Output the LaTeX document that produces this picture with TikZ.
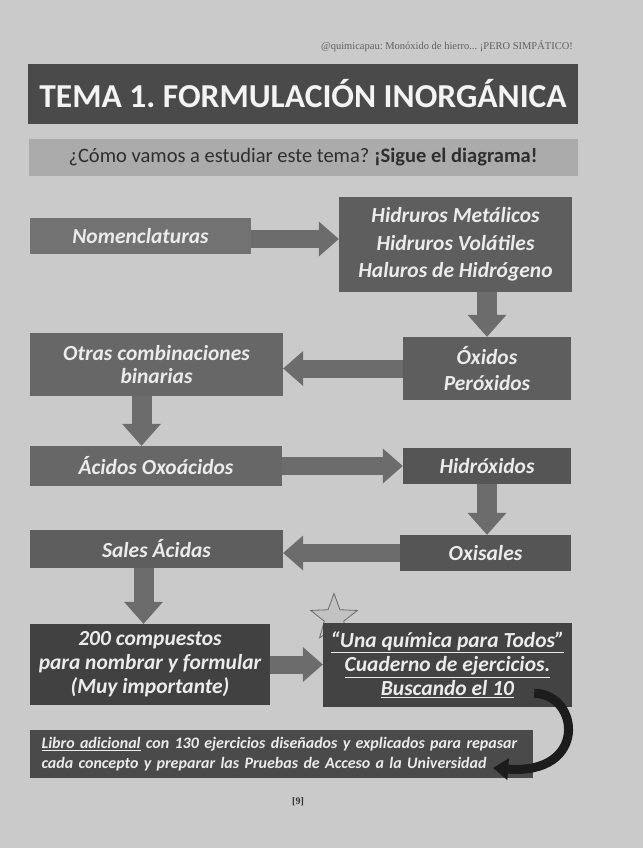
\documentclass[tikz,border=0pt]{standalone}
\usepackage{fontspec}
\setmainfont{Carlito}
\newfontfamily\serifcab{Liberation Serif}
\usetikzlibrary{arrows.meta,shapes.geometric}

\definecolor{fondo}{HTML}{CACACA}
\definecolor{cajaclara}{HTML}{727272}
\definecolor{caja}{HTML}{5E5E5E}
\definecolor{cajaosc}{HTML}{4A4A4A}
\definecolor{flecha}{HTML}{6C6C6C}
\definecolor{letra}{HTML}{EBEBEB}
\definecolor{curva}{HTML}{1C1C1C}

\begin{document}
\frenchspacing
\begin{tikzpicture}[x=1pt,y=-1pt,
    caja/.style={fill=caja, text=letra, align=center, inner sep=0pt,
      font=\fontsize{21.5}{24}\selectfont\bfseries\itshape},
    flechah/.style={draw=flecha, line width=18pt,
      -{Triangle[width=35pt,length=20pt,line width=0pt]}},
    flechav/.style={draw=flecha, line width=20pt,
      -{Triangle[width=39pt,length=22pt,line width=0pt]}}]
    % page
    \fill[fondo] (0,0) rectangle (643,848);
    \useasboundingbox (0,0) rectangle (643,848);
    \node[font=\serifcab\fontsize{10.5}{12}\selectfont, text=black!62] (cab) at (447,46)
      {@quimicapau: Monóxido de hierro... ¡PERO SIMPÁTICO!};

    % title bars
    \node[fill=cajaosc, minimum width=550pt, minimum height=60pt, text=letra!60!white,
      font=\fontsize{33.5}{36}\selectfont\bfseries] (titulo) at (303,94)
      {TEMA 1. FORMULACIÓN INORGÁNICA};
    \node[fill=black!33, minimum width=549pt, minimum height=37pt, text=black!82,
      font=\fontsize{20.5}{22}\selectfont] (sub) at (303,157.5)
      {¿Cómo vamos a estudiar este tema? \textbf{¡Sigue el diagrama!}};

    % star, partly under the book box
    \node[star, star points=5, star point ratio=2.4, minimum size=49pt, inner sep=0pt,
      fill=black!24, draw=black!58, line width=0.8pt] (estrella) at (334,618) {};

    % boxes
    \node[caja, fill=cajaclara, minimum width=221pt, minimum height=36pt] (nom) at (140.5,236) {Nomenclaturas};
    \node[caja, minimum width=233pt, minimum height=95pt, font=\fontsize{21.5}{27.5}\selectfont\bfseries\itshape]
      (hid) at (455.5,244.5) {Hidruros Metálicos\\Hidruros Volátiles\\Haluros de Hidrógeno};
    \node[caja, minimum width=168pt, minimum height=63pt, font=\fontsize{21.5}{26}\selectfont\bfseries\itshape]
      (oxi) at (487,368.5) {Óxidos\\Peróxidos};
    \node[caja, fill=cajaclara!90!black, minimum width=253pt, minimum height=63pt, font=\fontsize{21.5}{23}\selectfont\bfseries\itshape]
      (otras) at (156.5,364.5) {Otras combinaciones\\binarias};
    \node[caja, fill=cajaclara!90!black, minimum width=252pt, minimum height=40pt] (acidos) at (156,466) {Ácidos Oxoácidos};
    \node[caja, fill=caja!90!black, minimum width=168pt, minimum height=36pt] (hidrox) at (487,466) {Hidróxidos};
    \node[caja, fill=caja!90!black, minimum width=171pt, minimum height=36pt] (oxis) at (485.5,553) {Oxisales};
    \node[caja, minimum width=253pt, minimum height=38pt] (sales) at (156.5,549) {Sales Ácidas};
    \node[caja, fill=cajaosc!105, minimum width=240pt, minimum height=81pt] (comp) at (150,664.5)
      {200 compuestos\\para nombrar y formular\\(Muy importante)};
    \node[caja, fill=cajaosc!90!black, minimum width=249pt, minimum height=84pt] (una) at (447.5,665)
      {\underline{“Una química para Todos”}\\\underline{Cuaderno de ejercicios.}\\\underline{Buscando el 10}};
    \node[caja, fill=cajaosc, minimum width=503pt, minimum height=48pt, text width=480pt, align=left,
      font=\fontsize{16}{20}\selectfont\bfseries\itshape] (libro) at (281.5,754)
      {\underline{Libro adicional} con 130 ejercicios diseñados y explicados para repasar\\cada concepto y preparar las Pruebas de Acceso a la Universidad};

    % arrows between boxes
    \draw[flechah] ([yshift=-3pt]nom.east) -- ([yshift=-3pt]nom.east -| hid.west);
    \draw[flechav] (hid.south -| oxi.north) -- (oxi.north);
    \draw[flechah] (oxi.west) -- (oxi.west -| otras.east);
    \draw[flechav] ([xshift=-15pt]otras.south) -- ([xshift=-15pt]otras.south |- acidos.north);
    \draw[flechah] (acidos.east) -- (acidos.east -| hidrox.west);
    \draw[flechav] (hidrox.south) -- (hidrox.south |- oxis.north);
    \draw[flechah] (oxis.west) -- (oxis.west -| sales.east);
    \draw[flechav] ([xshift=-13pt]sales.south) -- ([xshift=-13pt]sales.south |- comp.north);
    \draw[flechah] (comp.east) -- (comp.east -| una.west);

    % curved arrow to the extra book
    \coordinate (curvaini) at ([xshift=-38pt,yshift=14pt]una.south east);
    \coordinate (curvafin) at ([xshift=-40pt,yshift=-14pt]libro.east);
    \draw[curva, line width=9pt, -{Triangle[width=22pt,length=15pt,line width=0pt]}]
      (curvaini) .. controls (580,694) and (588,775) .. (curvafin);

    \node[font=\serifcab\bfseries\fontsize{10}{12}\selectfont, text=black!80] (pag) at (298,802) {[9]};
\end{tikzpicture}
\end{document}
